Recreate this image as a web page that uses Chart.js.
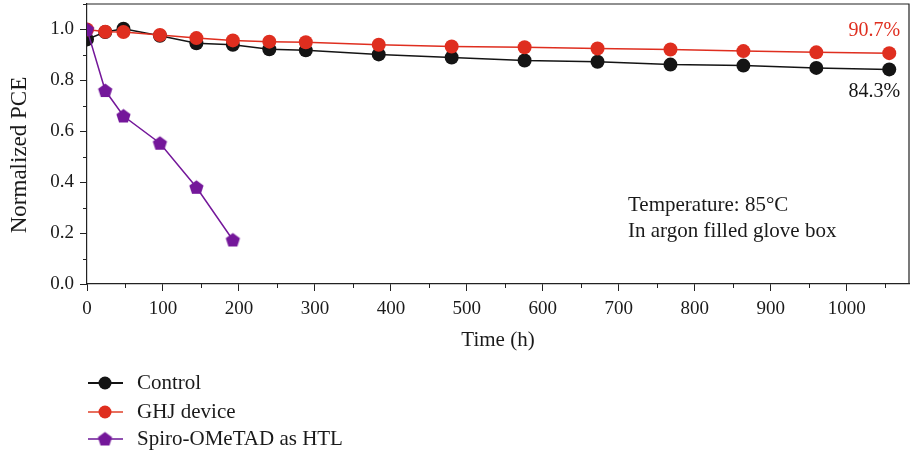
<!DOCTYPE html>
<html>
<head>
<meta charset="utf-8">
<script src="https://cdn.jsdelivr.net/npm/chart.js@4"></script>
<style>
  html, body { margin: 0; padding: 0; background: #fff; }
  #wrap { width: 911px; height: 453px; }
</style>
</head>
<body>
<div id="wrap"><canvas id="pce"></canvas></div>
<script>
const hours = [0, 24, 48, 96, 144, 192, 240, 288, 384, 480, 576, 672, 768, 864, 960, 1056];
const control = [0.961, 0.99, 1.003, 0.975, 0.946, 0.94, 0.922, 0.918, 0.902, 0.89, 0.878, 0.873, 0.862, 0.858, 0.849, 0.843];
const ghj = [1.0, 0.991, 0.99, 0.978, 0.966, 0.957, 0.952, 0.95, 0.94, 0.933, 0.93, 0.925, 0.921, 0.915, 0.91, 0.907];
const spiroHours = [0, 24, 48, 96, 144, 192];
const spiro = [1.0, 0.76, 0.66, 0.553, 0.38, 0.173];
const seriesNames = ['Control', 'GHJ device', 'Spiro-OMeTAD as HTL'];
const endLabels = ['84.3%', '90.7%'];
const noteLines = ['Temperature: 85\u00B0C', 'In argon filled glove box'];
const yTitle = 'Normalized PCE';

const FONT = '"Liberation Serif", "DejaVu Serif", serif';
const BLACK = '#141414', RED = '#df2e1f', PURPLE = '#74179a';

const pairs = (xs, ys) => xs.map((x, i) => ({x: x, y: ys[i]}));

// pentagon marker
const pentagon = (r, color) => {
  const c = document.createElement('canvas');
  c.width = c.height = Math.ceil(r * 2 + 2);
  const g = c.getContext('2d');
  const cx = c.width / 2, cy = c.height / 2 + 0.5;
  g.beginPath();
  for (let i = 0; i < 5; i++) {
    const a = -Math.PI / 2 + i * 2 * Math.PI / 5;
    const px = cx + r * Math.cos(a), py = cy + r * Math.sin(a);
    i ? g.lineTo(px, py) : g.moveTo(px, py);
  }
  g.closePath();
  g.fillStyle = color;
  g.fill();
  return c;
}
const penta = pentagon(7.5, PURPLE);

const extras = {
  id: 'extras',
  afterDatasetsDraw(chart) {
    const {ctx, chartArea: a, scales} = chart;
    const xs = scales.x, ys = scales.y;
    ctx.save();
    // frame top + right
    ctx.strokeStyle = '#222';
    ctx.lineWidth = 1.2;
    ctx.beginPath();
    ctx.moveTo(a.left, a.top); ctx.lineTo(a.right, a.top); ctx.lineTo(a.right, a.bottom);
    ctx.stroke();
    // minor ticks
    ctx.lineWidth = 1;
    ctx.beginPath();
    for (let v = 50; v < 1080; v += 100) {
      const px = Math.round(xs.getPixelForValue(v)) + 0.5;
      ctx.moveTo(px, a.bottom); ctx.lineTo(px, a.bottom + 4);
    }
    for (let v = 0.1; v < 1.1; v += 0.2) {
      const py = Math.round(ys.getPixelForValue(v)) + 0.5;
      ctx.moveTo(a.left, py); ctx.lineTo(a.left - 4, py);
    }
    ctx.stroke();
    // y title
    ctx.fillStyle = '#1a1a1a';
    ctx.font = '23px ' + FONT;
    ctx.textAlign = 'center';
    ctx.textBaseline = 'middle';
    ctx.save();
    ctx.translate(20, 155);
    ctx.rotate(-Math.PI / 2);
    ctx.fillText(yTitle, 0, 0);
    ctx.restore();
    // end labels
    ctx.font = '20px ' + FONT;
    ctx.textAlign = 'right';
    const lastX = xs.getPixelForValue(hours[hours.length - 1]);
    ctx.fillStyle = BLACK;
    ctx.fillText(endLabels[0], lastX + 11, ys.getPixelForValue(control[control.length - 1]) + 22);
    ctx.fillStyle = RED;
    ctx.fillText(endLabels[1], lastX + 11, ys.getPixelForValue(ghj[ghj.length - 1]) - 22);
    // note
    ctx.font = '21px ' + FONT;
    ctx.fillStyle = '#1a1a1a';
    ctx.textAlign = 'left';
    ctx.fillText(noteLines[0], 628, 205);
    ctx.fillText(noteLines[1], 628, 231);
    // legend
    const rowsY = [383, 412, 439];
    const cols = [BLACK, '#e8705f', '#9050b0'];
    const mk = [BLACK, RED, PURPLE];
    rowsY.forEach((y, i) => {
      ctx.strokeStyle = cols[i];
      ctx.lineWidth = 2;
      ctx.beginPath(); ctx.moveTo(88, y); ctx.lineTo(123, y); ctx.stroke();
      if (i < 2) {
        ctx.fillStyle = mk[i];
        ctx.beginPath(); ctx.arc(105, y, 6.5, 0, Math.PI * 2); ctx.fill();
      } else {
        ctx.drawImage(penta, 105 - penta.width / 2, y - penta.height / 2);
      }
      ctx.fillStyle = '#1a1a1a';
      ctx.fillText(seriesNames[i], 137, y);
    });
    ctx.restore();
  }
};

new Chart(document.getElementById('pce'), {
  type: 'scatter',
  data: {
    datasets: [
      {label: seriesNames[0], data: pairs(hours, control), showLine: true, order: 3, clip: 0,
       borderColor: BLACK, backgroundColor: BLACK, borderWidth: 1.5, pointRadius: 7, pointBorderWidth: 0},
      {label: seriesNames[1], data: pairs(hours, ghj), showLine: true, order: 2, clip: 0,
       borderColor: RED, backgroundColor: RED, borderWidth: 1.5, pointRadius: 7, pointBorderWidth: 0},
      {label: seriesNames[2], data: pairs(spiroHours, spiro), showLine: true, order: 1, clip: 0,
       borderColor: PURPLE, backgroundColor: PURPLE, borderWidth: 1.5, pointStyle: penta, pointRadius: 7}
    ]
  },
  options: {
    responsive: true,
    maintainAspectRatio: false,
    animation: false,
    layout: {autoPadding: false, padding: {top: 4, right: 2, bottom: 100, left: 0}},
    plugins: {legend: {display: false}, tooltip: {enabled: false}},
    scales: {
      x: {
        type: 'linear', min: 0, max: 1082,
        afterFit: s => { s.paddingLeft = 0; s.paddingRight = 0; },
        grid: {display: true, drawOnChartArea: false, drawTicks: true, tickLength: 7, color: '#222'},
        border: {display: true, color: '#222', width: 1.2},
        ticks: {stepSize: 100, includeBounds: false, padding: 7, color: '#1a1a1a', font: {family: FONT, size: 19}, maxRotation: 0,
                callback: v => String(v)},
        title: {display: true, text: 'Time (h)', color: '#1a1a1a', font: {family: FONT, size: 21}, padding: {top: 0, bottom: 0}}
      },
      y: {
        min: 0, max: 1.1,
        afterFit: s => { s.width = 87; s.paddingTop = 0; s.paddingBottom = 0; },
        grid: {display: true, drawOnChartArea: false, drawTicks: true, tickLength: 7, color: '#222'},
        border: {display: true, color: '#222', width: 1.2},
        ticks: {stepSize: 0.2, includeBounds: false, padding: 6, color: '#1a1a1a', font: {family: FONT, size: 19},
                callback: v => v.toFixed(1)},
        title: {display: false}
      }
    }
  },
  plugins: [extras]
});
</script>
</body>
</html>
